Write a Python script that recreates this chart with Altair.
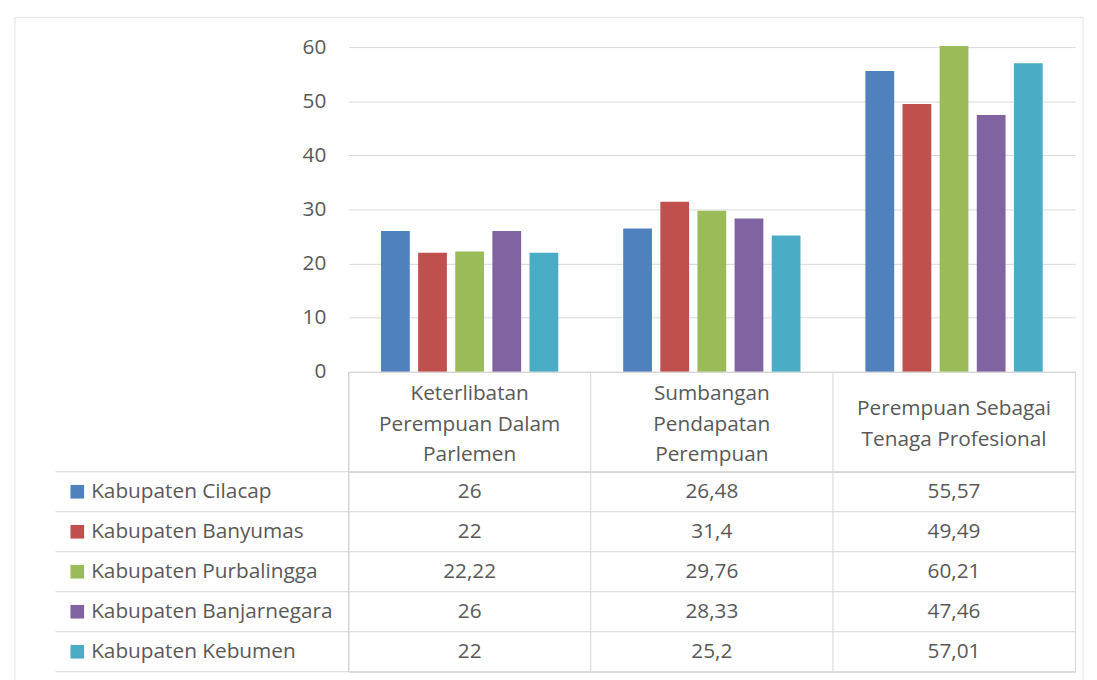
import altair as alt
import pandas as pd

categories = [
    "Keterlibatan Perempuan Dalam Parlemen",
    "Sumbangan Pendapatan Perempuan",
    "Perempuan Sebagai Tenaga Profesional",
]
category_lines = [
    "Keterlibatan\nPerempuan Dalam\nParlemen",
    "Sumbangan\nPendapatan\nPerempuan",
    "Perempuan Sebagai\nTenaga Profesional",
]
series = [
    "Kabupaten Cilacap",
    "Kabupaten Banyumas",
    "Kabupaten Purbalingga",
    "Kabupaten Banjarnegara",
    "Kabupaten Kebumen",
]
colors = ["#4F81BD", "#C0504D", "#9BBB59", "#8064A2", "#4BACC6"]

cilacap = [26, 26.48, 55.57]
banyumas = [22, 31.4, 49.49]
purbalingga = [22.22, 29.76, 60.21]
banjarnegara = [26, 28.33, 47.46]
kebumen = [22, 25.2, 57.01]
y_ticks = [0, 10, 20, 30, 40, 50, 60]

all_values = [cilacap, banyumas, purbalingga, banjarnegara, kebumen]


def fmt(v):
    return ("%g" % v).replace(".", ",")


rows = []
for s, vals in zip(series, all_values):
    for c, v in zip(categories, vals):
        rows.append({"series": s, "cat": c, "value": v, "label": fmt(v)})
df = pd.DataFrame(rows)
hdf = pd.DataFrame({
    "cat": categories,
    "text": category_lines,
    "nlines": [t.count("\n") + 1 for t in category_lines],
})
sdf = pd.DataFrame({"series": series})
cdf = pd.DataFrame({"cat": categories})

W = 734
H_TOP = 328
H_HEAD = 101
H_ROWS = 202
TXT = "#595959"
LINE = "#d4d4d4"
FONT = "Open Sans"
FS = 21
LH = 31

color = alt.Color("series:N", sort=series,
                  scale=alt.Scale(domain=series, range=colors), legend=None)

top = alt.Chart(df).mark_bar().encode(
    x=alt.X("cat:N", sort=categories,
            scale=alt.Scale(paddingInner=0.268, paddingOuter=0.134), axis=None),
    xOffset=alt.XOffset("series:N", sort=series,
                        scale=alt.Scale(paddingInner=0.225, paddingOuter=0)),
    y=alt.Y("value:Q", scale=alt.Scale(domain=[0, 60], nice=False),
            axis=alt.Axis(values=y_ticks, grid=True, gridColor="#d9d9d9",
                          domain=False, ticks=False, labelPadding=23,
                          labelFontSize=FS, labelColor=TXT, title=None)),
    color=color,
).properties(width=W, height=H_TOP, view=alt.ViewBackground(stroke="transparent"))

table_scale = alt.Scale(domain=categories, paddingInner=0, paddingOuter=0)
table_x = alt.X("cat:N", sort=categories, scale=table_scale, axis=None)

col_lines = alt.Chart(cdf).mark_rule(color=LINE, strokeWidth=1).encode(
    x=alt.X("cat:N", sort=categories, bandPosition=0, scale=table_scale, axis=None),
)

head3 = alt.Chart(hdf).transform_filter("datum.nlines == 3").mark_text(
    fontSize=FS, lineBreak="\n", lineHeight=LH, color=TXT, baseline="middle",
    dy=-LH + 3,
).encode(x=table_x, text="text:N")
head2 = alt.Chart(hdf).transform_filter("datum.nlines == 2").mark_text(
    fontSize=FS, lineBreak="\n", lineHeight=LH, color=TXT, baseline="middle",
    dy=-LH / 2 + 3,
).encode(x=table_x, text="text:N")

head = alt.layer(col_lines, head3, head2).properties(
    width=W, height=H_HEAD, view=alt.ViewBackground(stroke=LINE)
)

row_scale = alt.Scale(domain=series, paddingInner=0, paddingOuter=0)
row_y = alt.Y("series:N", sort=series, scale=row_scale, axis=None)

row_lines = alt.Chart(sdf).mark_rule(color=LINE, strokeWidth=1).encode(
    y=alt.Y("series:N", sort=series, bandPosition=0, scale=row_scale, axis=None),
    x=alt.value(-296),
    x2=alt.value(W),
)
last_line = alt.Chart(sdf.tail(1)).mark_rule(color=LINE, strokeWidth=1).encode(
    y=alt.Y("series:N", sort=series, bandPosition=1, scale=row_scale, axis=None),
    x=alt.value(-296),
    x2=alt.value(W),
)
squares = alt.Chart(sdf).mark_square(size=190, opacity=1).encode(
    y=row_y, x=alt.value(-274), color=color,
)
names = alt.Chart(sdf).mark_text(align="left", fontSize=FS, color=TXT).encode(
    y=row_y, x=alt.value(-260), text="series:N",
)
vals = alt.Chart(df).mark_text(fontSize=FS, color=TXT).encode(
    x=table_x, y=row_y, text="label:N",
)
border = alt.Chart(sdf.head(1)).mark_rect(
    fillOpacity=0, stroke="#e3e3e3", strokeWidth=1
).encode(
    x=alt.value(-337), x2=alt.value(742), y=alt.value(-459), y2=alt.value(215),
)

rows_panel = alt.layer(col_lines, row_lines, last_line, squares, names, vals,
                       border).properties(
    width=W, height=H_ROWS, view=alt.ViewBackground(stroke=LINE)
)

chart = alt.vconcat(top, head, rows_panel, spacing=0, bounds="flush").properties(
    padding={"left": 6, "top": 5, "right": 5, "bottom": 5}
).configure(font=FONT).configure_text(font=FONT)

chart.save("out.html", embed_options={"renderer": "svg", "actions": False})
